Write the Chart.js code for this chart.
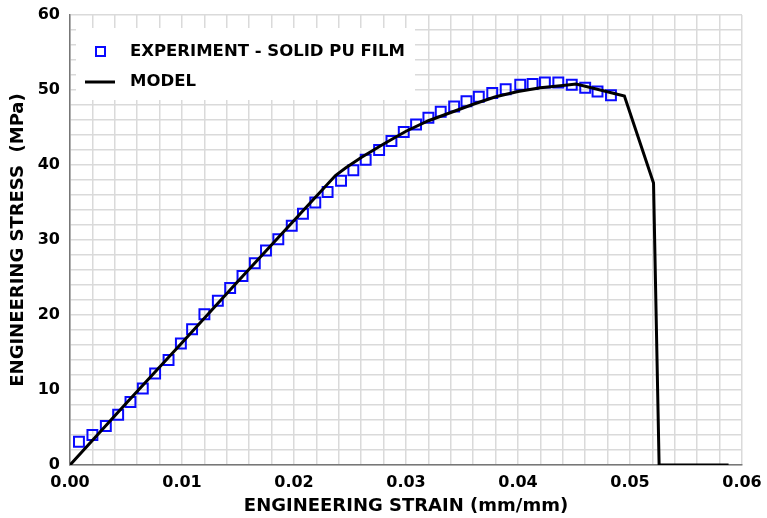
<!DOCTYPE html>
<html>
<head>
<meta charset="utf-8">
<script src="https://cdn.jsdelivr.net/npm/chart.js@4"></script>
<style>
  html, body { margin: 0; padding: 0; background: #fff; }
  #wrap { width: 767px; height: 518px; }
</style>
</head>
<body>
<div id="wrap"><canvas id="chart"></canvas></div>
<script>
// experiment data - solid PU film
const expStrain = [0.0008, 0.0020, 0.0032, 0.0043, 0.0054, 0.0065, 0.0076, 0.0088, 0.0099, 0.0109,
    0.0120, 0.0132, 0.0143, 0.0154, 0.0165, 0.0175, 0.0186, 0.0198, 0.0208, 0.0219,
    0.0230, 0.0242, 0.0253, 0.0264, 0.0276, 0.0287, 0.0298, 0.0309, 0.0320, 0.0331,
    0.0343, 0.0354, 0.0365, 0.0377, 0.0389, 0.0402, 0.0413, 0.0424, 0.0436, 0.0448,
    0.0460, 0.0471, 0.0483];
const expStress = [3.1, 4.0, 5.2, 6.7, 8.4, 10.2, 12.2, 14.0, 16.2, 18.1,
    20.1, 21.9, 23.6, 25.2, 26.9, 28.6, 30.1, 31.9, 33.5, 35.0,
    36.4, 37.9, 39.3, 40.7, 42.0, 43.2, 44.4, 45.4, 46.3, 47.1,
    47.8, 48.5, 49.1, 49.6, 50.1, 50.7, 50.8, 51.0, 51.0, 50.7,
    50.3, 49.8, 49.3];

// model curve
const modelStrain = [0, 0.005, 0.010, 0.015, 0.020, 0.0237, 0.0246, 0.026, 0.028, 0.030, 0.032, 0.034,
    0.036, 0.038, 0.040, 0.042, 0.044, 0.0452, 0.0495, 0.0521, 0.0526, 0.0588];
const modelStress = [0, 8.2, 16.3, 24.5, 32.6, 38.6, 39.6, 41.0, 42.8, 44.5, 45.9, 47.0,
    48.1, 49.1, 49.8, 50.3, 50.6, 50.8, 49.2, 37.6, 0, 0];

const xLabels = ['0.00', '0.01', '0.02', '0.03', '0.04', '0.05', '0.06'];
const yLabels = ['0', '10', '20', '30', '40', '50', '60'];

const toPoints = (xs, ys) => xs.map((x, i) => ({ x: x, y: ys[i] }));
const FONT = '"DejaVu Sans", Verdana, sans-serif';

// legend drawn inside the plot, on a white box over the grid
const boxLegend = {
    id: 'boxLegend',
    beforeDatasetsDraw(chart) {
        const ctx = chart.ctx;
        const a = chart.chartArea;
        const ds = chart.data.datasets;
        ctx.save();
        ctx.fillStyle = '#fff';
        ctx.fillRect(a.left + 6, a.top + 13, 339, 72);
        ctx.font = 'bold 16.5px ' + FONT;
        ctx.textBaseline = 'middle';
        ctx.fillStyle = '#000';

        // experiment marker
        ctx.strokeStyle = ds[1].borderColor;
        ctx.lineWidth = 2;
        ctx.strokeRect(a.left + 26, a.top + 32, 9, 9);
        ctx.fillText(ds[1].label, a.left + 60, a.top + 37);

        // model line
        ctx.strokeStyle = ds[0].borderColor;
        ctx.lineWidth = 3;
        ctx.beginPath();
        ctx.moveTo(a.left + 15, a.top + 67);
        ctx.lineTo(a.left + 45, a.top + 67);
        ctx.stroke();
        ctx.fillText(ds[0].label, a.left + 60, a.top + 67);
        ctx.restore();
    }
};

const labelAt = (labels, step) => (v) => {
    const i = Math.round(v / step);
    return Math.abs(v / step - i) < 1e-6 ? labels[i] : '';
};

new Chart(document.getElementById('chart'), {
    type: 'scatter',
    data: {
        datasets: [{
            label: 'MODEL',
            type: 'line',
            data: toPoints(modelStrain, modelStress),
            borderColor: '#000',
            borderWidth: 3,
            pointRadius: 0,
            fill: false,
            tension: 0
        }, {
            label: 'EXPERIMENT - SOLID PU FILM',
            data: toPoints(expStrain, expStress),
            pointStyle: 'rect',
            pointRadius: 7,
            borderColor: '#0a0aff',
            backgroundColor: 'rgba(0,0,0,0)',
            pointBorderWidth: 2
        }]
    },
    plugins: [boxLegend],
    options: {
        responsive: true,
        maintainAspectRatio: false,
        animation: false,
        layout: { padding: { left: 0, top: 15, right: 25, bottom: 0 } },
        plugins: {
            legend: { display: false },
            tooltip: { enabled: false }
        },
        scales: {
            x: {
                type: 'linear',
                min: 0,
                max: 0.06,
                afterFit: (s) => { s.height = 53; s.paddingLeft = 0; s.paddingRight = 0; },
                border: { color: '#777', width: 1.5 },
                grid: { color: '#dadada', lineWidth: 1.5, drawTicks: false },
                ticks: {
                    stepSize: 0.002,
                    autoSkip: false,
                    maxRotation: 0,
                    padding: 8,
                    color: '#000',
                    font: { family: FONT, size: 16, weight: 'bold' },
                    callback: labelAt(xLabels, 0.01)
                },
                title: {
                    display: true,
                    text: 'ENGINEERING STRAIN (mm/mm)',
                    color: '#000',
                    font: { family: FONT, size: 18, weight: 'bold' },
                    padding: { top: 0, bottom: 1 }
                }
            },
            y: {
                min: 0,
                max: 60,
                afterFit: (s) => { s.width = 70; s.paddingTop = 0; s.paddingBottom = 0; },
                border: { color: '#777', width: 1.5 },
                grid: { color: '#dadada', lineWidth: 1.5, drawTicks: false },
                ticks: {
                    stepSize: 2,
                    autoSkip: false,
                    padding: 10,
                    color: '#000',
                    font: { family: FONT, size: 16, weight: 'bold' },
                    callback: labelAt(yLabels, 10)
                },
                title: {
                    display: true,
                    text: 'ENGINEERING STRESS  (MPa)',
                    color: '#000',
                    font: { family: FONT, size: 18, weight: 'bold' },
                    padding: { top: 8, bottom: 0 }
                }
            }
        }
    }
});
</script>
</body>
</html>
